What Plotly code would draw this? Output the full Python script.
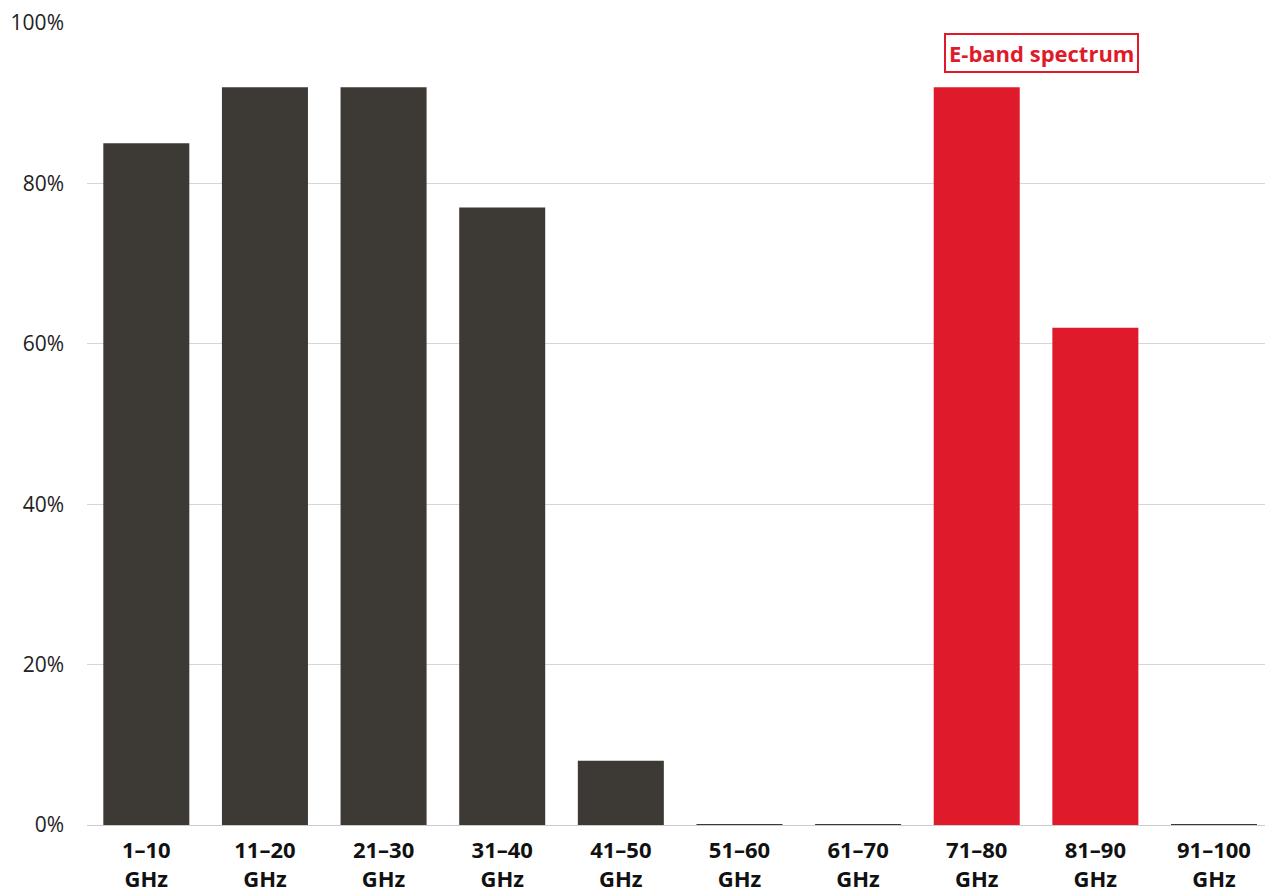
import plotly.graph_objects as go

# Frequency bands and share of licensed links per band (%)
bands = ["1–10<br>GHz", "11–20<br>GHz", "21–30<br>GHz", "31–40<br>GHz", "41–50<br>GHz",
         "51–60<br>GHz", "61–70<br>GHz", "71–80<br>GHz", "81–90<br>GHz", "91–100<br>GHz"]
share = [85, 92, 92, 77, 8, 0.1, 0.1, 92, 62, 0.1]
eband = [False, False, False, False, False, False, False, True, True, False]

y_ticks = [0, 20, 40, 60, 80, 100]
y_tick_text = ["0%", "20%", "40%", "60%", "80%", "100%"]

DARK = "#3d3935"
RED = "#df1a2a"
FONT = "Open Sans, Lato, sans-serif"

colors = [RED if e else DARK for e in eband]

fig = go.Figure(go.Bar(
    x=bands, y=share,
    marker=dict(color=colors, line=dict(width=0)),
    hoverinfo="skip",
))

fig.add_annotation(
    x=7.55, y=96.2, xref="x", yref="y",
    text="<b>E-band spectrum</b>",
    showarrow=False,
    font=dict(family=FONT, size=22, color=RED),
    bgcolor="white", bordercolor=RED, borderwidth=2, borderpad=3,
)

fig.update_layout(
    width=1265, height=888,
    margin=dict(l=87, r=0, t=23, b=63, autoexpand=False),
    paper_bgcolor="white", plot_bgcolor="white",
    bargap=0.275,
    showlegend=False,
    font=dict(family=FONT, color="#111111"),
)
fig.update_xaxes(
    type="category",
    range=[-0.5, 9.43],
    automargin=False,
    tickfont=dict(family=FONT, size=22, color="#111111", weight="bold"),
    showgrid=False, showline=False, ticks="",
    ticklabelstandoff=10,
)
fig.update_yaxes(
    range=[0, 100],
    automargin=False,
    tickvals=y_ticks, ticktext=y_tick_text,
    tickfont=dict(family=FONT, size=21, color="#222222"),
    showgrid=True, gridcolor="#d6d6d6", gridwidth=1,
    zeroline=True, zerolinecolor="#cccccc", zerolinewidth=1,
    showline=False, ticks="",
    ticklabelstandoff=22,
)

fig.write_html("out.html")
